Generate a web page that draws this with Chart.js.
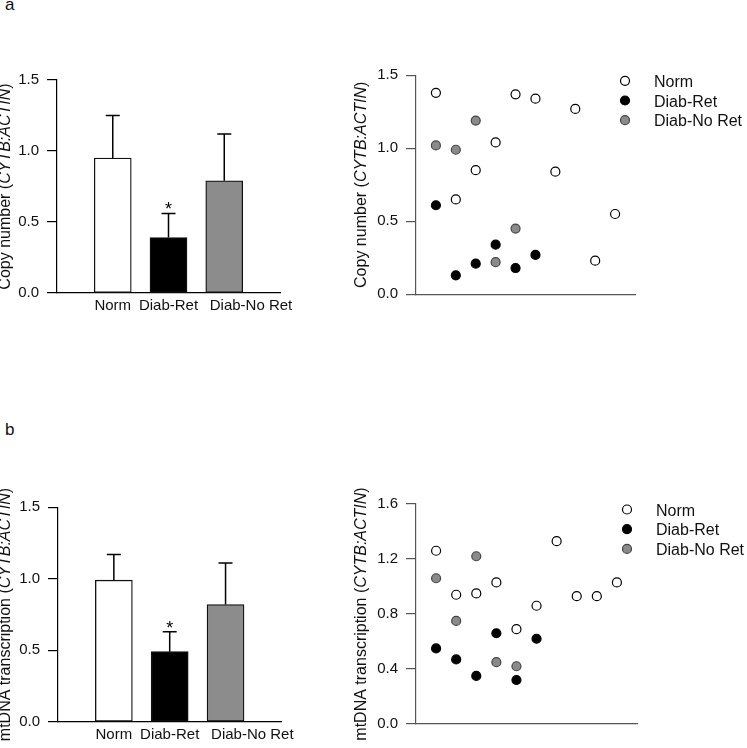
<!DOCTYPE html>
<html>
<head>
<meta charset="utf-8">
<script src="https://cdn.jsdelivr.net/npm/chart.js@4.4.1/dist/chart.umd.min.js"></script>
<style>
  body { margin: 0; background: #fff; width: 747px; height: 748px; position: relative; overflow: hidden; font-family: "Liberation Sans", Arial, sans-serif; }
  canvas { position: absolute; }
  .panel { position: absolute; font-size: 17px; line-height: 1; color: #111; }
</style>
</head>
<body>
<div class="panel" style="left:5px;top:-4px">a</div>
<div class="panel" style="left:5px;top:421px">b</div>
<canvas id="copyBar" width="300" height="270" style="left:0;top:60px"></canvas>
<canvas id="copyDots" width="447" height="290" style="left:300px;top:40px"></canvas>
<canvas id="transBar" width="300" height="268" style="left:0;top:480px"></canvas>
<canvas id="transDots" width="447" height="278" style="left:300px;top:470px"></canvas>
<script>
// group means and upper error (SEM)
const groups = ["Norm", "Diab-Ret", "Diab-No Ret"];
const copyMean = [0.95, 0.39, 0.79];
const copyErr = [0.30, 0.17, 0.33];
const transMean = [0.99, 0.49, 0.82];
const transErr = [0.18, 0.14, 0.29];
const stars = ["", "*", ""];

// individual samples, in the order they appear left to right
const copyNorm = [1.38, 0.65, 0.85, 1.04, 1.37, 1.34, 0.84, 1.27, 0.23, 0.55];
const copyRet = [0.61, 0.13, 0.21, 0.34, 0.18, 0.27];
const copyNoRet = [1.02, 0.99, 1.19, 0.22, 0.45];
const transNorm = [1.26, 0.94, 0.95, 1.03, 0.69, 0.86, 1.33, 0.93, 0.93, 1.03];
const transRet = [0.55, 0.47, 0.35, 0.66, 0.32, 0.62];
const transNoRet = [1.06, 0.75, 1.22, 0.45, 0.42];

const barTicks = [0, 0.5, 1.0, 1.5];
const copyDotTicks = [0, 0.5, 1.0, 1.5];
const transDotTicks = [0, 0.4, 0.8, 1.2, 1.6];

const copyTitle = ["Copy number (", "CYTB:ACTIN", ")"];
const transTitle = ["mtDNA transcription (", "CYTB:ACTIN", ")"];

// layout: where the group labels sit under the bars (the last one is pushed right in the original)
const labelAt = [1, 2, 3.48];

const FAM = '"Liberation Sans", Arial, sans-serif';
const fills = ["#ffffff", "#000000", "#8c8c8c"];
const dotStyle = [
  { bg: "#ffffff", border: "#000000" },
  { bg: "#000000", border: "#000000" },
  { bg: "#8a8a8a", border: "#444444" }
];

const axisTitle = {
  id: "axisTitle",
  afterDraw(chart, args, opts) {
    const ctx = chart.ctx, a = chart.chartArea;
    const normal = "16px " + FAM, italic = "italic 16px " + FAM;
    ctx.save();
    const widths = opts.parts.map((p, i) => {
      ctx.font = i === 1 ? italic : normal;
      return ctx.measureText(p).width;
    });
    const total = widths.reduce((s, w) => s + w, 0);
    ctx.translate(a.left - opts.offset, (a.top + a.bottom) / 2);
    ctx.rotate(-Math.PI / 2);
    ctx.fillStyle = "#111";
    ctx.textBaseline = "alphabetic";
    let x = -total / 2;
    opts.parts.forEach((p, i) => {
      ctx.font = i === 1 ? italic : normal;
      ctx.fillText(p, x, 0);
      x += widths[i];
    });
    ctx.restore();
  }
};

const errorBars = {
  id: "errorBars",
  afterDatasetsDraw(chart, args, opts) {
    const ctx = chart.ctx, xs = chart.scales.x, ys = chart.scales.y;
    ctx.save();
    ctx.strokeStyle = "#000";
    ctx.lineWidth = 1.5;
    opts.means.forEach((m, i) => {
      const x = xs.getPixelForValue(i + 1);
      const y0 = ys.getPixelForValue(m);
      const y1 = ys.getPixelForValue(m + opts.errs[i]);
      ctx.beginPath();
      ctx.moveTo(x, y0); ctx.lineTo(x, y1);
      ctx.moveTo(x - 7, y1); ctx.lineTo(x + 7, y1);
      ctx.stroke();
      if (opts.stars[i]) {
        ctx.font = "18px " + FAM;
        ctx.textAlign = "center";
        ctx.textBaseline = "alphabetic";
        ctx.fillStyle = "#000";
        ctx.fillText(opts.stars[i], x, y1 + 2);
      }
    });
    ctx.restore();
  }
};

const dotLegend = {
  id: "dotLegend",
  afterDraw(chart) {
    const ctx = chart.ctx, a = chart.chartArea;
    ctx.save();
    chart.data.datasets.forEach((ds, i) => {
      const y = a.top + 5.5 + i * 19.7;
      ctx.beginPath();
      ctx.arc(a.right - 10, y, 4.5, 0, Math.PI * 2);
      ctx.fillStyle = ds.backgroundColor;
      ctx.fill();
      ctx.lineWidth = ds.borderWidth;
      ctx.strokeStyle = ds.borderColor;
      ctx.stroke();
      ctx.font = "16px " + FAM;
      ctx.fillStyle = "#111";
      ctx.textBaseline = "alphabetic";
      ctx.fillText(ds.label, a.right + 19, y + 6);
    });
    ctx.restore();
  }
};

function yAxis(max, ticks, width, color) {
  return {
    min: 0, max: max,
    afterBuildTicks: s => { s.ticks = ticks.map(v => ({ value: v })); },
    grid: { display: true, drawOnChartArea: false, drawTicks: true, tickLength: 10, color: color, lineWidth: 1.2 },
    border: { display: true, color: color, width: 1.2 },
    ticks: { callback: v => v.toFixed(1), padding: 8, color: "#111", font: { family: FAM, size: 15 } },
    afterFit: s => { s.width = width; }
  };
}

function barChart(id, means, errs, title, pad, xHeight, yWidth, titleOffset) {
  new Chart(document.getElementById(id), {
    type: "bar",
    data: {
      datasets: [{
        data: means.map((v, i) => ({ x: i + 1, y: v })),
        backgroundColor: fills,
        borderColor: "#111",
        borderWidth: 1.3,
        borderSkipped: false,
        barThickness: 37
      }]
    },
    options: {
      responsive: false,
      animation: false,
      layout: { padding: pad },
      plugins: {
        legend: { display: false },
        tooltip: { enabled: false },
        axisTitle: { parts: title, offset: titleOffset },
        errorBars: { means: means, errs: errs, stars: stars }
      },
      scales: {
        x: {
          type: "linear", min: 0, max: 4, offset: false,
          afterBuildTicks: s => { s.ticks = labelAt.map(v => ({ value: v })); },
          grid: { display: false, drawTicks: false, offset: false },
          border: { display: true, color: "#000", width: 1.2 },
          ticks: { callback: (v, i) => groups[i], autoSkip: false, maxRotation: 0, padding: 4, color: "#111", font: { family: FAM, size: 15 } },
          afterFit: s => { s.height = xHeight; }
        },
        y: yAxis(1.5, barTicks, yWidth, "#000")
      }
    },
    plugins: [axisTitle, errorBars]
  });
}

function dotChart(id, sets, max, ticks, title, pad, xHeight) {
  new Chart(document.getElementById(id), {
    type: "scatter",
    data: {
      datasets: sets.map((vals, g) => ({
        label: groups[g],
        data: vals.map((v, i) => ({ x: i + 1, y: v })),
        backgroundColor: dotStyle[g].bg,
        borderColor: dotStyle[g].border,
        borderWidth: 1.2,
        pointRadius: 4.5
      }))
    },
    options: {
      responsive: false,
      animation: false,
      layout: { padding: pad },
      plugins: {
        legend: { display: false },
        tooltip: { enabled: false },
        axisTitle: { parts: title, offset: 50 }
      },
      scales: {
        x: {
          type: "linear", min: 0, max: 11,
          grid: { display: false, drawTicks: false },
          border: { display: true, color: "#555", width: 1.2 },
          ticks: { display: false },
          afterFit: s => { s.height = xHeight; }
        },
        y: yAxis(max, ticks, 116, "#555")
      }
    },
    plugins: [axisTitle, dotLegend]
  });
}

barChart("copyBar", copyMean, copyErr, copyTitle, { top: 20, right: 20, left: 0, bottom: 0 }, 37, 57, 47);
barChart("transBar", transMean, transErr, transTitle, { top: 27.3, right: 18.3, left: 0, bottom: 0 }, 26.3, 58, 48);
dotChart("copyDots", [copyNorm, copyRet, copyNoRet], 1.5, copyDotTicks, copyTitle, { top: 35.3, right: 112, left: 0, bottom: 0 }, 35.7);
dotChart("transDots", [transNorm, transRet, transNoRet], 1.6, transDotTicks, transTitle, { top: 34, right: 110, left: 0, bottom: 0 }, 24);
</script>
</body>
</html>
